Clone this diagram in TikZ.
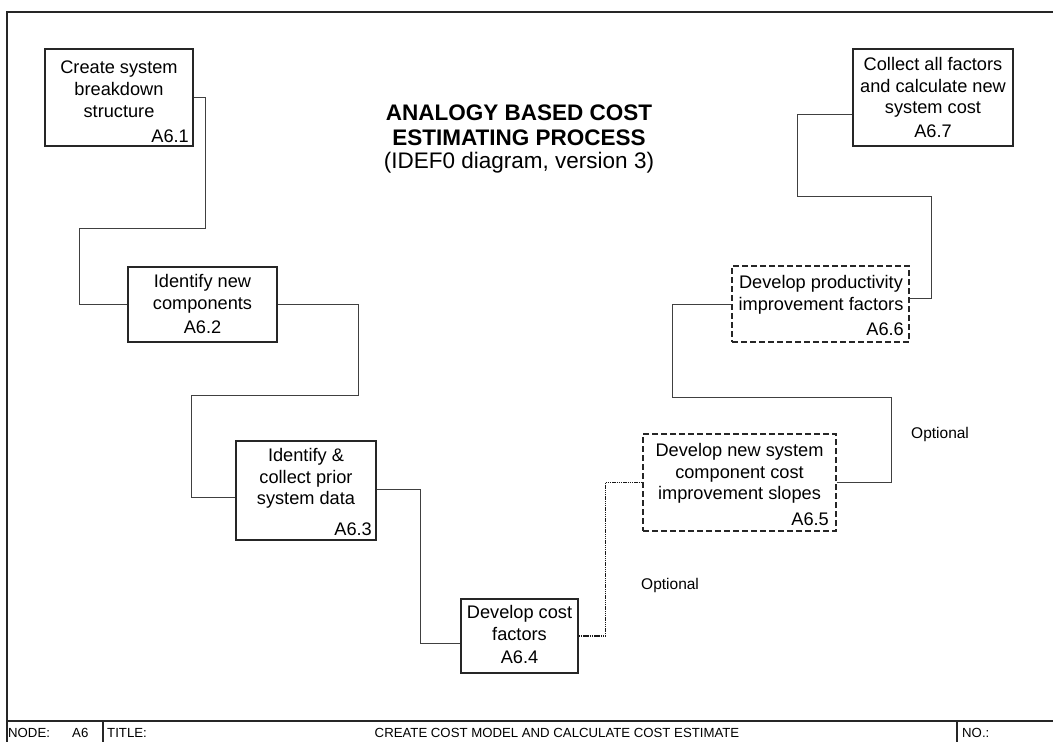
\documentclass[tikz,border=0pt]{standalone}
\usepackage{fontspec}
\setmainfont{Liberation Sans}
\usetikzlibrary{calc}
\begin{document}
\begin{tikzpicture}[x=1pt,y=-1pt,
  frameline/.style={draw=black!85, line width=1.4pt},
  box/.style={draw=black!85, line width=1.2pt, inner sep=0pt, fill=white},
  boldbox/.style={box, line width=1.8pt},
  dashbox/.style={box, line width=1.5pt, dash pattern=on 6pt off 3pt},
  conn/.style={draw=black!75, line width=1pt},
  optconn/.style={conn, draw=black!90, line width=1.1pt, dash pattern=on 1.5pt off 0.7pt},
  txt/.style={font=\fontsize{18.2}{21.8}\selectfont, align=center, inner sep=0pt},
  num/.style={font=\fontsize{18.2}{21.8}\selectfont, inner sep=0pt},
  note/.style={font=\fontsize{15.5}{18}\selectfont, inner sep=0pt},
  ttl/.style={font=\fontsize{22.5}{25}\selectfont, inner sep=0pt},
  ttlb/.style={font=\fontsize{22.5}{25}\selectfont\bfseries, inner sep=0pt},
  bar/.style={font=\fontsize{13.2}{15}\selectfont, inner sep=0pt}]
\useasboundingbox (0,0) rectangle (1053,742);

% sheet frame and title bar
\draw[frameline] (7,742) -- (7,12) -- (1053,12);
\draw[frameline] (7,721) -- (1053,721);
\draw[frameline] (103,721) -- (103,742);
\draw[frameline] (957,721) -- (957,742);
\node[bar, anchor=base west] (nodelbl) at (8,737) {NODE:};
\node[bar, anchor=base west] (nodeval) at (72,737) {A6};
\node[bar, anchor=base west] (titlelbl) at (107,737) {TITLE:};
\node[bar, anchor=base] (titleval) at (557,737) {CREATE COST MODEL AND CALCULATE COST ESTIMATE};
\node[bar, anchor=base west] (nolbl) at (962,737) {NO.:};

% diagram heading
\node[ttlb, anchor=base] (h1) at (519,120) {ANALOGY BASED COST};
\node[ttlb, anchor=base] (h2) at (519,145) {ESTIMATING PROCESS};
\node[ttl, anchor=base] (h3) at (519,168) {(IDEF0 diagram, version 3)};

% activity boxes
\node[box, minimum width=148pt, minimum height=97pt] (a1) at (119,97.5) {};
\node[txt, anchor=north] (t1) at (119,61) {Create system\\breakdown\\structure};
\node[num, anchor=base east] (n1) at (189,142) {A6.1};

\node[box, minimum width=149pt, minimum height=75pt] (a2) at (202.5,304.5) {};
\node[txt, anchor=north] (t2) at (202.5,274) {Identify new\\components};
\node[num, anchor=base] (n2) at (202.5,333) {A6.2};

\node[boldbox, minimum width=140pt, minimum height=99pt] (a3) at (306,490.5) {};
\node[txt, anchor=north] (t3) at (306,448) {Identify \&\\collect prior\\system data};
\node[num, anchor=base east] (n3) at (372,535) {A6.3};

\node[box, minimum width=117pt, minimum height=74pt] (a4) at (519.5,636) {};
\node[txt, anchor=north] (t4) at (519.5,605) {Develop cost\\factors};
\node[num, anchor=base] (n4) at (519.5,663) {A6.4};

\node[dashbox, minimum width=193pt, minimum height=97pt] (a5) at (739.5,482.5) {};
\node[txt, anchor=north] (t5) at (739.5,443) {Develop new system\\component cost\\improvement slopes};
\node[num, anchor=base east] (n5) at (829,525) {A6.5};

\node[dashbox, minimum width=177pt, minimum height=76pt] (a6) at (820.5,304) {};
\node[txt, anchor=north] (t6) at (821,275) {Develop productivity\\improvement factors};
\node[num, anchor=base east] (n6) at (904,335) {A6.6};

\node[box, minimum width=160pt, minimum height=97pt] (a7) at (933,97.5) {};
\node[txt, anchor=north] (t7) at (933,57) {Collect all factors\\and calculate new\\system cost};
\node[num, anchor=base] (n7) at (933,137) {A6.7};

% connectors between activities
\draw[conn] (a1.east) -| (205,228) -| ([xshift=-48pt]a2.west) -- (a2.west);
\draw[conn] (a2.east) -| (358,395) -| ([xshift=-44pt,yshift=-6.5pt]a3.west) -- ([yshift=-6.5pt]a3.west);
\draw[conn] ([yshift=1.5pt]a3.east) -| ([xshift=-40pt,yshift=-7pt]a4.west) -- ([yshift=-7pt]a4.west);
\draw[optconn] (a4.east) -| ([xshift=-37pt]a5.west) -- (a5.west);
\draw[conn] (a5.east) -| (891,397) -| ([xshift=-59pt]a6.west) -- (a6.west);
\draw[conn] ([yshift=6pt]a6.east) -| (931,196) -| ([xshift=-55pt,yshift=-16.5pt]a7.west) -- ([yshift=-16.5pt]a7.west);

% connector notes
\node[note, anchor=west] (opt1) at (641,585) {Optional};
\node[note, anchor=west] (opt2) at (911,434) {Optional};
\end{tikzpicture}
\end{document}
